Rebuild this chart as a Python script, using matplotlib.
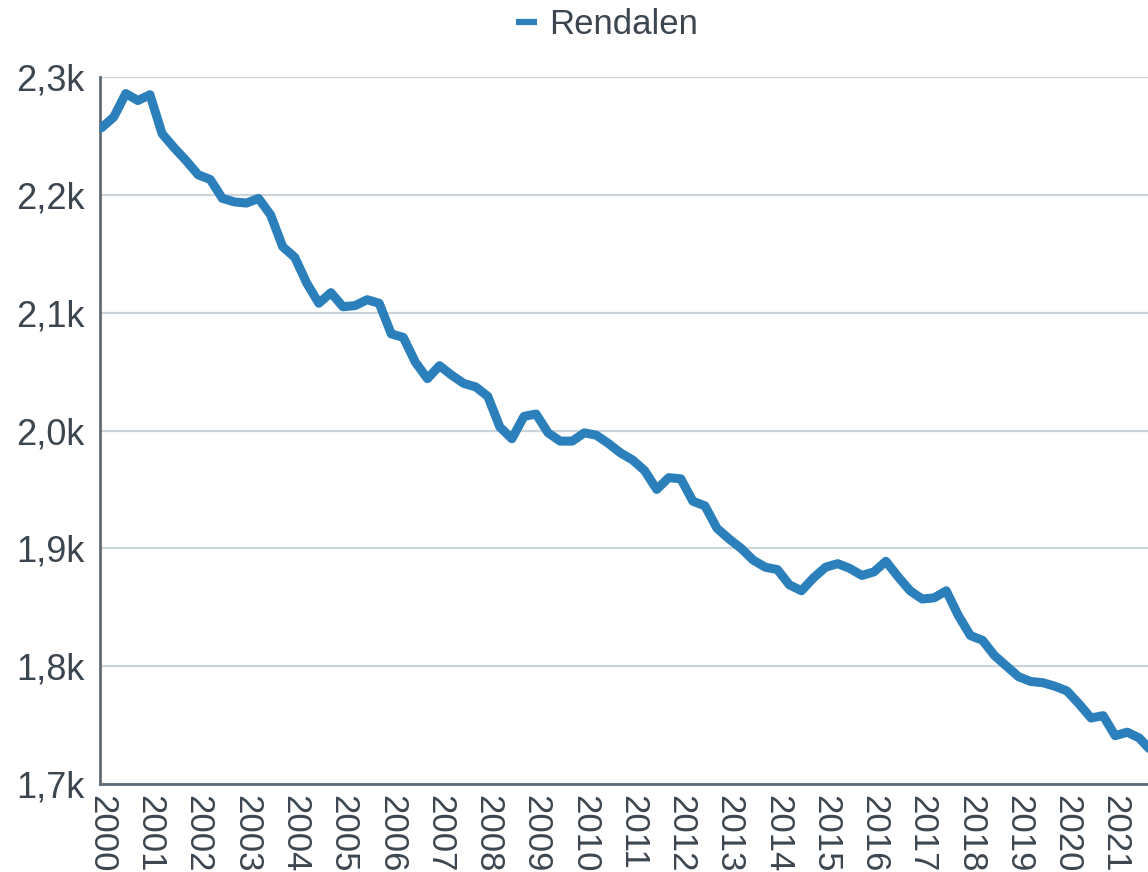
import numpy as np
import matplotlib
matplotlib.use("Agg")
import matplotlib.pyplot as plt
from matplotlib.ticker import FuncFormatter

plt.rcParams['font.family'] = ['Liberation Sans', 'DejaVu Sans']

# kvartalsvis folketall, Rendalen (2000K1 ...)
series_name = "Rendalen"
start_year = 2000
population = [
    2257, 2266, 2286, 2280, 2285, 2252, 2240, 2229,
    2217, 2213, 2197, 2194, 2193, 2197, 2183, 2156,
    2147, 2125, 2108, 2117, 2105, 2106, 2111, 2108,
    2082, 2079, 2058, 2044, 2055, 2047, 2040, 2037,
    2029, 2003, 1993, 2012, 2014, 1998, 1991, 1991,
    1998, 1996, 1989, 1981, 1975, 1966, 1950, 1960,
    1959, 1940, 1936, 1917, 1908, 1900, 1890, 1884,
    1882, 1869, 1864, 1875, 1884, 1887, 1883, 1877,
    1880, 1889, 1876, 1864, 1857, 1858, 1864, 1843,
    1826, 1822, 1809, 1800, 1791, 1787, 1786, 1783,
    1779, 1768, 1756, 1758, 1741, 1744, 1739, 1728,
]
tick_years = list(range(2000, 2022))
y_ticks = [1700, 1800, 1900, 2000, 2100, 2200, 2300]

text_color = '#3b4650'
line_color = '#2b7fbb'

t = start_year + np.arange(len(population)) / 4.0

fig = plt.figure(figsize=(11.48, 8.72), dpi=100)
ax = fig.add_axes([0.0871, 0.1009, 0.9129, 0.8108])

ax.plot(t, population, color=line_color, linewidth=6.5, solid_joinstyle='round',
        solid_capstyle='round', label=series_name, zorder=3)

ax.set_ylim(1700, 2300)
ax.set_xlim(1999.965, 2021.68)
ax.set_yticks(y_ticks)
ax.yaxis.set_major_formatter(FuncFormatter(lambda v, p: f"{v/1000:.1f}k".replace('.', ',')))
ax.set_xticks(tick_years)
ax.set_xticklabels([str(y) for y in tick_years], rotation=-90)

ax.grid(axis='y', color='#ccd3d9', linewidth=1.6, zorder=0)
ax.grid(axis='x', visible=False)
for s in ['top', 'right']:
    ax.spines[s].set_visible(False)
for s in ['left', 'bottom']:
    ax.spines[s].set_color('#5f6b74')
    ax.spines[s].set_linewidth(2)

ax.tick_params(axis='both', length=0, colors=text_color)
ax.tick_params(axis='y', pad=11, labelsize=26)
ax.tick_params(axis='x', pad=8, labelsize=25)

leg = fig.legend(loc='upper center', bbox_to_anchor=(0.529, 1.027), frameon=False,
                 fontsize=25, handlelength=0.6, handletextpad=0.35)
for txt in leg.get_texts():
    txt.set_color(text_color)
for h in leg.get_lines():
    h.set_linewidth(4.5)
    h.set_solid_capstyle('butt')

fig.savefig('out.png', dpi=100)
